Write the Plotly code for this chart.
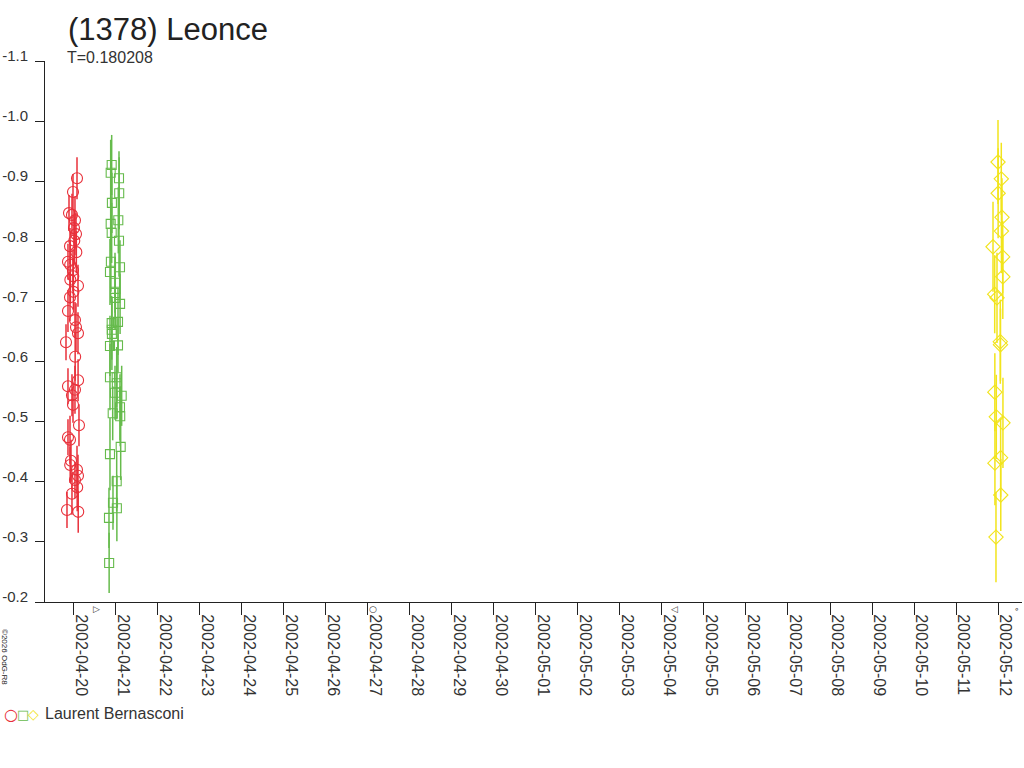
import plotly.graph_objects as go

# ---------------- data ----------------
red_time = ["2002-04-20 01:43", "2002-04-19 23:26", "2002-04-19 21:09", "2002-04-19 22:51",
            "2002-04-20 00:34", "2002-04-20 00:00", "2002-04-20 01:09", "2002-04-20 00:10",
            "2002-04-19 21:43", "2002-04-20 01:20", "2002-04-19 20:34", "2002-04-19 21:50",
            "2002-04-19 23:26", "2002-04-19 23:35", "2002-04-19 21:55", "2002-04-20 02:17",
            "2002-04-19 23:40", "2002-04-19 21:43", "2002-04-19 20:34", "2002-04-20 00:34",
            "2002-04-20 01:09", "2002-04-20 02:17", "2002-04-19 19:26", "2002-04-20 00:40",
            "2002-04-20 02:20", "2002-04-19 20:34", "2002-04-20 00:34", "2002-04-19 22:51",
            "2002-04-19 23:26", "2002-04-20 02:51", "2002-04-19 20:34", "2002-04-19 21:43",
            "2002-04-19 22:17", "2002-04-19 21:50", "2002-04-20 01:43", "2002-04-20 02:17",
            "2002-04-20 00:34", "2002-04-20 01:50", "2002-04-19 22:51", "2002-04-19 20:00",
            "2002-04-20 02:25"]
red_mag = [-0.905, -0.882, -0.847, -0.844, -0.835, -0.822, -0.812, -0.801, -0.792, -0.782,
           -0.766, -0.761, -0.752, -0.742, -0.736, -0.726, -0.716, -0.707, -0.684, -0.669,
           -0.657, -0.647, -0.632, -0.608, -0.569, -0.559, -0.553, -0.544, -0.528, -0.494,
           -0.474, -0.470, -0.435, -0.428, -0.420, -0.410, -0.403, -0.391, -0.380, -0.353,
           -0.350]
red_err = [0.035, 0.030, 0.030, 0.035, 0.040, 0.030, 0.035, 0.040, 0.030, 0.035,
           0.030, 0.040, 0.035, 0.030, 0.040, 0.035, 0.030, 0.040, 0.035, 0.030,
           0.040, 0.035, 0.030, 0.040, 0.035, 0.030, 0.040, 0.035, 0.030, 0.035,
           0.030, 0.040, 0.035, 0.030, 0.040, 0.035, 0.030, 0.040, 0.035, 0.030,
           0.035]

green_time = ["2002-04-20 21:32", "2002-04-20 20:58", "2002-04-21 01:43", "2002-04-21 01:50",
              "2002-04-20 21:40", "2002-04-21 01:19", "2002-04-20 20:58", "2002-04-20 21:32",
              "2002-04-21 01:43", "2002-04-20 21:05", "2002-04-21 02:17", "2002-04-20 20:34",
              "2002-04-20 23:26", "2002-04-20 23:30", "2002-04-20 23:35", "2002-04-21 02:20",
              "2002-04-21 01:09", "2002-04-20 21:32", "2002-04-20 21:35", "2002-04-20 21:40",
              "2002-04-20 20:34", "2002-04-21 01:09", "2002-04-20 20:34", "2002-04-21 00:24",
              "2002-04-21 00:30", "2002-04-20 23:26", "2002-04-21 03:15", "2002-04-21 02:17",
              "2002-04-20 22:07", "2002-04-21 02:25", "2002-04-21 02:41", "2002-04-20 20:34",
              "2002-04-21 00:24", "2002-04-20 22:17", "2002-04-21 00:30", "2002-04-20 20:00",
              "2002-04-20 20:05"]
green_mag = [-0.927, -0.914, -0.905, -0.880, -0.864, -0.835, -0.829, -0.814, -0.801, -0.766,
             -0.757, -0.749, -0.731, -0.714, -0.706, -0.696, -0.666, -0.664, -0.653, -0.646,
             -0.626, -0.627, -0.574, -0.574, -0.564, -0.548, -0.543, -0.524, -0.514, -0.509,
             -0.458, -0.446, -0.401, -0.365, -0.356, -0.340, -0.265]
green_err = [0.050, 0.055, 0.045, 0.060, 0.050, 0.055, 0.045, 0.050, 0.060, 0.050,
             0.045, 0.055, 0.050, 0.060, 0.045, 0.050, 0.055, 0.045, 0.050, 0.060,
             0.050, 0.045, 0.055, 0.050, 0.060, 0.045, 0.050, 0.055, 0.045, 0.050,
             0.055, 0.060, 0.050, 0.045, 0.055, 0.050, 0.050]

yellow_time = ["2002-05-12 00:00", "2002-05-12 01:53", "2002-05-12 00:05", "2002-05-12 02:17",
               "2002-05-12 01:58", "2002-05-11 21:09", "2002-05-12 02:41", "2002-05-12 02:45",
               "2002-05-11 22:07", "2002-05-11 23:26", "2002-05-12 01:19", "2002-05-12 01:25",
               "2002-05-11 22:12", "2002-05-11 23:02", "2002-05-12 02:50", "2002-05-12 01:30",
               "2002-05-11 22:15", "2002-05-12 01:35", "2002-05-11 22:51"]
yellow_mag = [-0.932, -0.904, -0.880, -0.840, -0.817, -0.791, -0.774, -0.741, -0.712, -0.706,
              -0.633, -0.628, -0.549, -0.508, -0.498, -0.440, -0.431, -0.378, -0.308]
yellow_err = [0.070, 0.060, 0.075, 0.065, 0.070, 0.075, 0.060, 0.070, 0.065, 0.075,
              0.070, 0.060, 0.065, 0.070, 0.075, 0.065, 0.070, 0.060, 0.075]

y_ticks = [-1.1, -1.0, -0.9, -0.8, -0.7, -0.6, -0.5, -0.4, -0.3, -0.2]
y_tick_text = ["-1.1", "-1.0", "-0.9", "-0.8", "-0.7", "-0.6", "-0.5", "-0.4", "-0.3", "-0.2"]
x_range = ["2002-04-19 07:26", "2002-05-12 13:43"]

moon_time = ["2002-04-20 12:48", "2002-04-27 03:00", "2002-05-04 07:16", "2002-05-12 10:45"]
moon_sym = ["▷", "○", "◁", "∘"]

title_text = "(1378) Leonce"
period_text = "T=0.180208"
observer = "Laurent Bernasconi"

RED = "#e8303a"
GREEN = "#66bb4c"
YELLOW = "#f2e41c"
FONT = "Liberation Sans, Arial, sans-serif"

fig = go.Figure()

def add_series(t, m, e, color, symbol, size):
    fig.add_trace(go.Scatter(
        x=t, y=m, mode="markers",
        marker=dict(symbol=symbol, size=size, color=color,
                    line=dict(color=color, width=1.1)),
        error_y=dict(type="data", array=e, visible=True, color=color,
                     thickness=1.5, width=0),
        showlegend=False, hoverinfo="skip"))

add_series(red_time, red_mag, red_err, RED, "circle-open", 11)
add_series(green_time, green_mag, green_err, GREEN, "square-open", 9)
add_series(yellow_time, yellow_mag, yellow_err, YELLOW, "diamond-open", 11)

PW = 977.0   # plot width in px
PH = 541.0   # plot height in px

def px_x(px):
    return (px - 45) / PW

def px_y(py):
    return (602 - py) / PH

annotations = [
    dict(text=title_text, xref="paper", yref="paper", x=px_x(66), y=px_y(30),
         xanchor="left", yanchor="middle", showarrow=False,
         font=dict(size=31, color="#222", family=FONT)),
    dict(text=period_text, xref="paper", yref="paper", x=px_x(65), y=px_y(58),
         xanchor="left", yanchor="middle", showarrow=False,
         font=dict(size=16, color="#333", family=FONT)),
    dict(text="○", xref="paper", yref="paper", x=px_x(11), y=px_y(714),
         xanchor="center", yanchor="middle", showarrow=False,
         font=dict(size=16, color=RED, family="DejaVu Sans")),
    dict(text="□", xref="paper", yref="paper", x=px_x(23), y=px_y(714),
         xanchor="center", yanchor="middle", showarrow=False,
         font=dict(size=13, color=GREEN, family="DejaVu Sans")),
    dict(text="◇", xref="paper", yref="paper", x=px_x(33), y=px_y(714),
         xanchor="center", yanchor="middle", showarrow=False,
         font=dict(size=14, color=YELLOW, family="DejaVu Sans")),
    dict(text=observer, xref="paper", yref="paper", x=px_x(43), y=px_y(713),
         xanchor="left", yanchor="middle", showarrow=False,
         font=dict(size=16, color="#333", family=FONT)),
    dict(text="©2026 OdG-R8", xref="paper", yref="paper", x=px_x(5), y=px_y(657),
         xanchor="center", yanchor="middle", showarrow=False, textangle=90,
         font=dict(size=8, color="#222", family=FONT)),
]
for t, s in zip(moon_time, moon_sym):
    annotations.append(dict(text=s, x=t, xref="x", yref="paper", y=0, yshift=-7,
                            xanchor="center", yanchor="middle", showarrow=False,
                            font=dict(size=9, color="#333", family="DejaVu Sans")))

fig.update_layout(
    width=1024, height=768, autosize=False,
    margin=dict(l=45, r=2, t=61, b=166, pad=0),
    paper_bgcolor="white", plot_bgcolor="white",
    font=dict(family=FONT, color="#222"),
    annotations=annotations,
    xaxis=dict(type="date", range=x_range, tick0="2002-04-20", dtick=86400000,
               tickformat="%Y-%m-%d", tickangle=90, ticks="outside", ticklen=12,
               tickcolor="#222", tickwidth=1, showline=True, linecolor="#222",
               linewidth=1, showgrid=False, zeroline=False, ticklabelshift=7,
               ticklabelstandoff=-4,
               tickfont=dict(size=16, color="#333", family=FONT)),
    yaxis=dict(range=[-0.2, -1.1], tickvals=y_ticks, ticktext=y_tick_text,
               ticks="outside", ticklen=9, tickcolor="#222", tickwidth=1,
               showline=True, linecolor="#222", linewidth=1, showgrid=False,
               zeroline=False, ticklabelshift=5, ticklabelstandoff=4,
               tickfont=dict(size=15, color="#333", family=FONT)),
)

fig.write_html("out.html", config={"displayModeBar": False},
               post_script="document.body.style.margin='0';document.body.style.padding='0';")
